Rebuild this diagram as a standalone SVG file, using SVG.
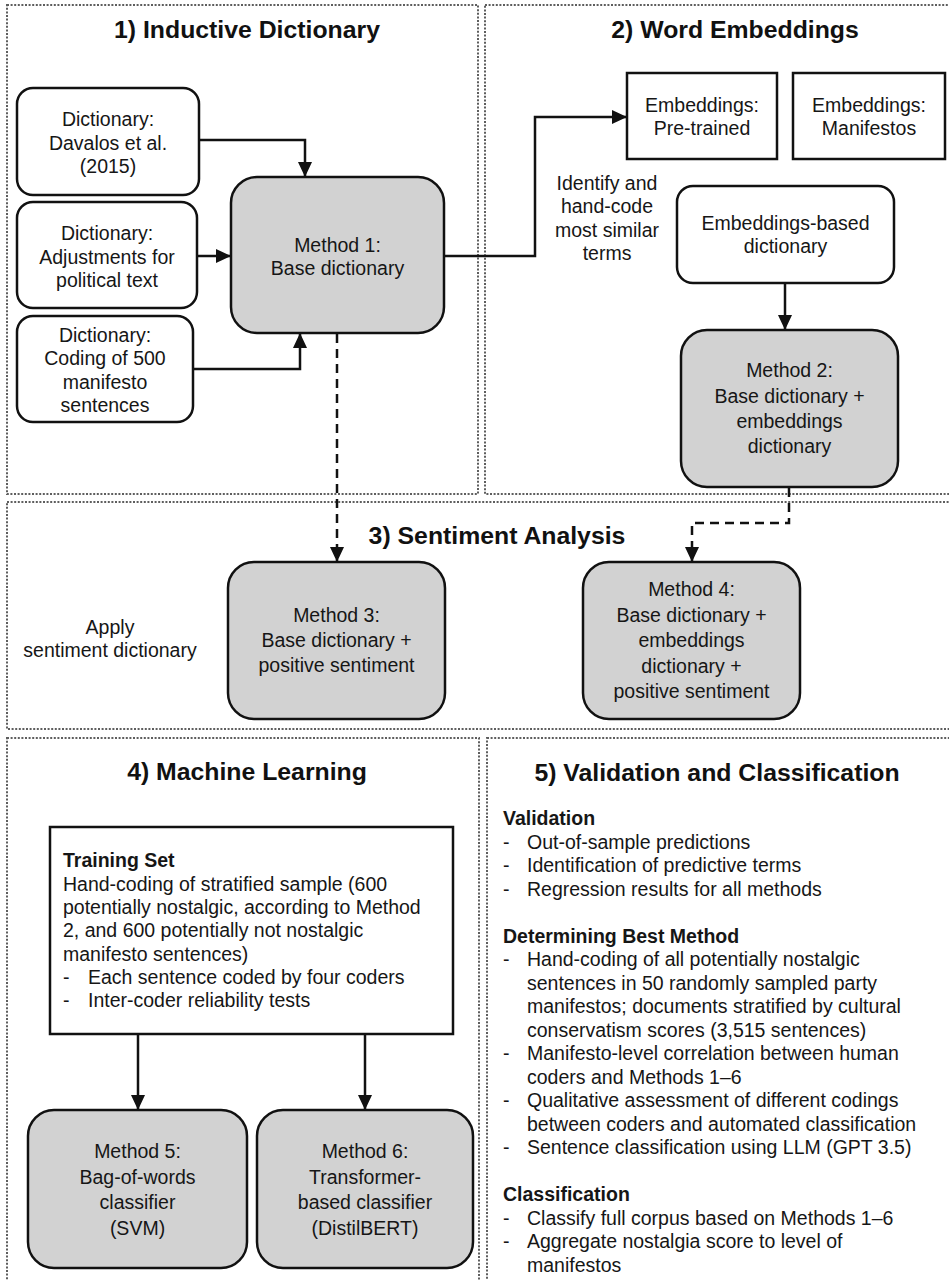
<svg xmlns="http://www.w3.org/2000/svg" width="949" height="1280" viewBox="0 0 949 1280">
<style>
.panel{fill:none;stroke:#5e5e5e;stroke-width:2;stroke-dasharray:2 1.6}
.box{fill:#fff;stroke:#111;stroke-width:2.5}
.gbox{fill:#d2d2d2;stroke:#111;stroke-width:2.5}
.t{font-family:"Liberation Sans",Arial,Helvetica,sans-serif;font-size:19.5px;fill:#161616}
.c{text-anchor:middle}
.h{font-family:"Liberation Sans",Arial,Helvetica,sans-serif;font-size:24.8px;font-weight:bold;fill:#111;text-anchor:middle}
.b{font-weight:bold}
.con{fill:none;stroke:#111;stroke-width:2.5}
.dash{stroke-dasharray:9 6}
</style>
<defs>
<marker id="ah" viewBox="0 0 15 14" refX="15" refY="7" markerWidth="15" markerHeight="14" markerUnits="userSpaceOnUse" orient="auto">
<path d="M0,0 L15,7 L0,14 z" fill="#111"/>
</marker>
</defs>
<rect width="949" height="1280" fill="#fff"/>

<g id="panels">
<rect class="panel" x="7" y="5" width="471" height="489"/>
<rect class="panel" x="485" y="5" width="470" height="489"/>
<rect class="panel" x="7" y="502" width="950" height="227"/>
<rect class="panel" x="7" y="738" width="472" height="560"/>
<rect class="panel" x="487" y="738" width="470" height="560"/>
<text class="h" x="247" y="38">1) Inductive Dictionary</text>
<text class="h" x="735" y="38">2) Word Embeddings</text>
<text class="h" x="497" y="544">3) Sentiment Analysis</text>
<text class="h" x="247" y="780">4) Machine Learning</text>
<text class="h" x="717" y="781">5) Validation and Classification</text>
</g>

<g id="connectors">
<path class="con" d="M199,140 H305 V177" marker-end="url(#ah)"/>
<path class="con" d="M197,256 H231" marker-end="url(#ah)"/>
<path class="con" d="M193,369 H300 V333" marker-end="url(#ah)"/>
<path class="con" d="M444,256 H535 V117 H627" marker-end="url(#ah)"/>
<path class="con" d="M785,283 V330" marker-end="url(#ah)"/>
<path class="con dash" d="M337,334 V562" marker-end="url(#ah)"/>
<path class="con dash" d="M789,488 V523 H692 V562" marker-end="url(#ah)"/>
<path class="con" d="M138,1034 V1110" marker-end="url(#ah)"/>
<path class="con" d="M365,1034 V1110" marker-end="url(#ah)"/>
</g>

<g id="dict-davalos">
<rect class="box" x="17" y="88" width="182" height="107" rx="16"/>
<text class="t c" x="108" y="126">Dictionary:</text>
<text class="t c" x="108" y="150">Davalos et al.</text>
<text class="t c" x="108" y="173">(2015)</text>
</g>
<g id="dict-adjust">
<rect class="box" x="17" y="202" width="180" height="106" rx="16"/>
<text class="t c" x="107" y="240">Dictionary:</text>
<text class="t c" x="107" y="263.5">Adjustments for</text>
<text class="t c" x="107" y="287">political text</text>
</g>
<g id="dict-coding">
<rect class="box" x="17" y="316" width="176" height="106" rx="16"/>
<text class="t c" x="105" y="342">Dictionary:</text>
<text class="t c" x="105" y="365">Coding of 500</text>
<text class="t c" x="105" y="388.5">manifesto</text>
<text class="t c" x="105" y="412">sentences</text>
</g>
<g id="method1">
<rect class="gbox" x="231" y="177" width="213" height="156" rx="26"/>
<text class="t c" x="337.5" y="252">Method 1:</text>
<text class="t c" x="337.5" y="275">Base dictionary</text>
</g>

<g id="emb-pretrained">
<rect class="box" x="627" y="73" width="150" height="86"/>
<text class="t c" x="702" y="112">Embeddings:</text>
<text class="t c" x="702" y="135">Pre-trained</text>
</g>
<g id="emb-manifestos">
<rect class="box" x="793" y="73" width="152" height="86"/>
<text class="t c" x="869" y="112">Embeddings:</text>
<text class="t c" x="869" y="135">Manifestos</text>
</g>
<g id="identify-label">
<text class="t c" x="607" y="190">Identify and</text>
<text class="t c" x="607" y="213">hand-code</text>
<text class="t c" x="607" y="237">most similar</text>
<text class="t c" x="607" y="260">terms</text>
</g>
<g id="emb-dict">
<rect class="box" x="677" y="186" width="217" height="97" rx="16"/>
<text class="t c" x="785.5" y="230">Embeddings-based</text>
<text class="t c" x="785.5" y="253">dictionary</text>
</g>
<g id="method2">
<rect class="gbox" x="681" y="330" width="217" height="157" rx="26"/>
<text class="t c" x="789.5" y="377">Method 2:</text>
<text class="t c" x="789.5" y="403">Base dictionary +</text>
<text class="t c" x="789.5" y="428">embeddings</text>
<text class="t c" x="789.5" y="453">dictionary</text>
</g>

<g id="apply-label">
<text class="t c" x="110" y="634">Apply</text>
<text class="t c" x="110" y="657">sentiment dictionary</text>
</g>
<g id="method3">
<rect class="gbox" x="228" y="562" width="217" height="157" rx="26"/>
<text class="t c" x="336.5" y="622">Method 3:</text>
<text class="t c" x="336.5" y="647">Base dictionary +</text>
<text class="t c" x="336.5" y="672">positive sentiment</text>
</g>
<g id="method4">
<rect class="gbox" x="583" y="562" width="217" height="157" rx="26"/>
<text class="t c" x="691.5" y="596">Method 4:</text>
<text class="t c" x="691.5" y="622">Base dictionary +</text>
<text class="t c" x="691.5" y="647">embeddings</text>
<text class="t c" x="691.5" y="673">dictionary +</text>
<text class="t c" x="691.5" y="698">positive sentiment</text>
</g>

<g id="training-set">
<rect class="box" x="50" y="827" width="403" height="207"/>
<text class="t b" x="63" y="867">Training Set</text>
<text class="t" x="63" y="890.5">Hand-coding of stratified sample (600</text>
<text class="t" x="63" y="914">potentially nostalgic, according to Method</text>
<text class="t" x="63" y="937">2, and 600 potentially not nostalgic</text>
<text class="t" x="63" y="960.5">manifesto sentences)</text>
<text class="t" x="63" y="984">-</text><text class="t" x="88" y="984">Each sentence coded by four coders</text>
<text class="t" x="63" y="1007">-</text><text class="t" x="88" y="1007">Inter-coder reliability tests</text>
</g>
<g id="method5">
<rect class="gbox" x="28" y="1110" width="219" height="158" rx="26"/>
<text class="t c" x="137.5" y="1158">Method 5:</text>
<text class="t c" x="137.5" y="1183.5">Bag-of-words</text>
<text class="t c" x="137.5" y="1209">classifier</text>
<text class="t c" x="137.5" y="1234.5">(SVM)</text>
</g>
<g id="method6">
<rect class="gbox" x="257" y="1110" width="216" height="158" rx="26"/>
<text class="t c" x="365" y="1158">Method 6:</text>
<text class="t c" x="365" y="1183.5">Transformer-</text>
<text class="t c" x="365" y="1209">based classifier</text>
<text class="t c" x="365" y="1234.5">(DistilBERT)</text>
</g>

<g id="validation-text">
<text class="t b" x="503" y="825">Validation</text>
<text class="t" x="503" y="848.5">-</text><text class="t" x="527" y="848.5">Out-of-sample predictions</text>
<text class="t" x="503" y="872">-</text><text class="t" x="527" y="872">Identification of predictive terms</text>
<text class="t" x="503" y="895.5">-</text><text class="t" x="527" y="895.5">Regression results for all methods</text>
<text class="t b" x="503" y="942.5">Determining Best Method</text>
<text class="t" x="503" y="966">-</text><text class="t" x="527" y="966">Hand-coding of all potentially nostalgic</text>
<text class="t" x="527" y="989.5">sentences in 50 randomly sampled party</text>
<text class="t" x="527" y="1013">manifestos; documents stratified by cultural</text>
<text class="t" x="527" y="1036.5">conservatism scores (3,515 sentences)</text>
<text class="t" x="503" y="1060">-</text><text class="t" x="527" y="1060">Manifesto-level correlation between human</text>
<text class="t" x="527" y="1083.5">coders and Methods 1–6</text>
<text class="t" x="503" y="1107">-</text><text class="t" x="527" y="1107">Qualitative assessment of different codings</text>
<text class="t" x="527" y="1130.5">between coders and automated classification</text>
<text class="t" x="503" y="1154">-</text><text class="t" x="527" y="1154">Sentence classification using LLM (GPT 3.5)</text>
<text class="t b" x="503" y="1201">Classification</text>
<text class="t" x="503" y="1224.5">-</text><text class="t" x="527" y="1224.5">Classify full corpus based on Methods 1–6</text>
<text class="t" x="503" y="1248">-</text><text class="t" x="527" y="1248">Aggregate nostalgia score to level of</text>
<text class="t" x="527" y="1271.5">manifestos</text>
</g>
</svg>
